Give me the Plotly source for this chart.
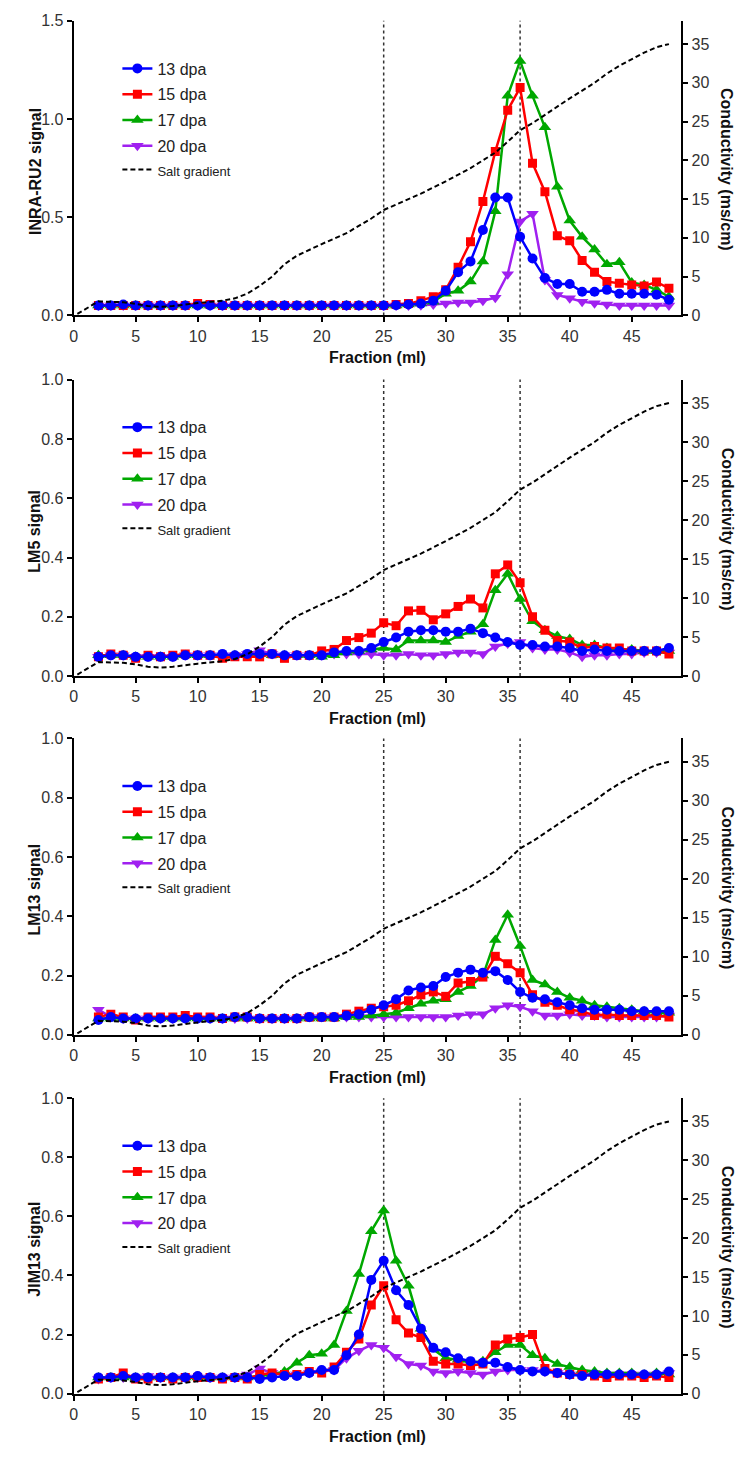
import plotly.graph_objects as go

# Fraction numbers (ml) collected from the column
fractions = list(range(2, 49))

# Salt gradient (conductivity, mS/cm) along the elution
salt_ml = [0.3, 2, 4, 5, 6, 7, 8, 10, 12, 13, 14, 15, 16, 17, 18, 19, 20, 22, 24, 25,
           26, 28, 30, 32, 33, 34, 35, 36, 37, 38, 40, 42, 43, 44, 46, 47, 48]
salt_ms = [0.2, 1.8, 1.7, 1.5, 1.2, 1.1, 1.2, 1.6, 1.9, 2.2, 2.8, 3.8, 5.0, 6.6, 7.7, 8.5,
           9.2, 10.6, 12.5, 13.6, 14.3, 15.7, 17.3, 19.0, 20.0, 21.0, 22.4, 23.9, 24.8,
           25.9, 28.0, 30.0, 31.2, 32.2, 33.9, 34.6, 35.0]

# Fractions marked with dotted reference lines
marker_fractions = [25, 36]

# INRA-RU2 signal
inra_13 = [0.05] * 2 + [0.055] + [0.05] * 21 + [
    0.052, 0.055, 0.06, 0.075, 0.125, 0.22, 0.275, 0.435, 0.6, 0.6, 0.4, 0.29, 0.19,
    0.16, 0.16, 0.12, 0.12, 0.13, 0.11, 0.11, 0.11, 0.105, 0.08]
inra_15 = [0.05] * 8 + [0.06, 0.055] + [0.05] * 14 + [
    0.055, 0.06, 0.075, 0.095, 0.13, 0.245, 0.375, 0.58, 0.835, 1.045, 1.16, 0.775, 0.63,
    0.405, 0.38, 0.28, 0.22, 0.172, 0.163, 0.155, 0.15, 0.17, 0.138]
inra_17 = [0.05] * 24 + [
    0.05, 0.055, 0.06, 0.07, 0.11, 0.125, 0.172, 0.275, 0.53, 1.118, 1.296, 1.118, 0.958,
    0.655, 0.483, 0.4, 0.336, 0.26, 0.27, 0.168, 0.155, 0.13, 0.095]
inra_20 = [0.05] * 24 + [
    0.05, 0.05, 0.052, 0.055, 0.06, 0.065, 0.065, 0.075, 0.09, 0.21, 0.478, 0.517, 0.18,
    0.104, 0.087, 0.07, 0.062, 0.055, 0.05, 0.05, 0.05, 0.05, 0.05]

# LM5 signal
lm5_13 = [0.065, 0.07, 0.07, 0.065, 0.065, 0.065, 0.065, 0.07, 0.07, 0.07, 0.075, 0.07,
          0.075, 0.075, 0.075, 0.07, 0.07, 0.07, 0.07,
          0.08, 0.085, 0.085, 0.095, 0.115, 0.13, 0.15, 0.155, 0.155, 0.15, 0.15, 0.16,
          0.145, 0.13, 0.115, 0.105, 0.105, 0.1, 0.1, 0.095, 0.085, 0.09, 0.085, 0.085,
          0.085, 0.085, 0.085, 0.095]
lm5_15 = [0.065, 0.075, 0.07, 0.06, 0.07, 0.065, 0.07, 0.075, 0.07, 0.07, 0.06, 0.065,
          0.065, 0.065, 0.075, 0.06, 0.07, 0.07, 0.085,
          0.09, 0.12, 0.13, 0.145, 0.18, 0.17, 0.22, 0.222, 0.19, 0.21, 0.235, 0.26, 0.23,
          0.345, 0.375, 0.315, 0.2, 0.155, 0.12, 0.115, 0.095, 0.1, 0.095, 0.095, 0.085,
          0.085, 0.085, 0.075]
lm5_17 = [0.07, 0.07, 0.07, 0.065, 0.065, 0.065, 0.065, 0.07, 0.07, 0.07, 0.07, 0.07,
          0.07, 0.075, 0.07, 0.07, 0.07, 0.07, 0.065,
          0.07, 0.08, 0.085, 0.09, 0.095, 0.09, 0.12, 0.12, 0.12, 0.115, 0.135, 0.15,
          0.175, 0.29, 0.345, 0.26, 0.185, 0.155, 0.135, 0.125, 0.105, 0.105, 0.095, 0.09,
          0.09, 0.085, 0.085, 0.085]
lm5_20 = [0.065, 0.07, 0.07, 0.065, 0.065, 0.065, 0.065, 0.07, 0.07, 0.07, 0.07, 0.07,
          0.075, 0.087, 0.075, 0.07, 0.07, 0.07, 0.07,
          0.075, 0.075, 0.075, 0.075, 0.07, 0.07, 0.075, 0.07, 0.07, 0.075, 0.08, 0.08,
          0.075, 0.1, 0.11, 0.115, 0.095, 0.09, 0.09, 0.08, 0.065, 0.07, 0.07, 0.075,
          0.075, 0.08, 0.08, 0.08]

# LM13 signal
lm13_13 = [0.05, 0.06, 0.055, 0.055, 0.055, 0.055, 0.055, 0.055, 0.055, 0.055, 0.055,
           0.06, 0.06, 0.055, 0.055, 0.055, 0.055, 0.06, 0.06,
           0.06, 0.065, 0.07, 0.085, 0.1, 0.12, 0.15, 0.16, 0.165, 0.195, 0.21, 0.22, 0.21,
           0.215, 0.185, 0.145, 0.125, 0.12, 0.11, 0.1, 0.09, 0.085, 0.085, 0.085, 0.08,
           0.08, 0.08, 0.08]
lm13_15 = [0.06, 0.07, 0.06, 0.05, 0.06, 0.06, 0.06, 0.065, 0.06, 0.06, 0.055, 0.06,
           0.06, 0.055, 0.055, 0.055, 0.055, 0.06, 0.06,
           0.06, 0.07, 0.08, 0.09, 0.095, 0.1, 0.115, 0.135, 0.145, 0.13, 0.175, 0.18,
           0.195, 0.265, 0.24, 0.21, 0.135, 0.11, 0.1, 0.085, 0.08, 0.065, 0.07, 0.065,
           0.065, 0.065, 0.065, 0.06]
lm13_17 = [0.055] * 19 + [
    0.055, 0.06, 0.06, 0.065, 0.07, 0.075, 0.09, 0.105, 0.115, 0.12, 0.145, 0.165, 0.2,
    0.32, 0.405, 0.3, 0.185, 0.17, 0.145, 0.125, 0.115, 0.1, 0.095, 0.09, 0.085, 0.08,
    0.075, 0.075]
lm13_20 = [0.085, 0.06] + [0.055] * 15 + [0.06, 0.06] + [
    0.06, 0.06, 0.06, 0.06, 0.06, 0.06, 0.06, 0.06, 0.06, 0.06, 0.065, 0.07, 0.07, 0.09,
    0.1, 0.095, 0.08, 0.065, 0.065, 0.07, 0.065, 0.065, 0.06, 0.06, 0.06, 0.06, 0.06,
    0.065]

# JIM13 signal
jim13_13 = [0.055, 0.055, 0.06, 0.055, 0.055, 0.055, 0.055, 0.055, 0.06, 0.055, 0.055,
            0.055, 0.055, 0.05, 0.055, 0.06, 0.06, 0.07, 0.08,
            0.08, 0.13, 0.2, 0.385, 0.45, 0.35, 0.3, 0.22, 0.155, 0.14, 0.12, 0.11, 0.105,
            0.105, 0.09, 0.08, 0.075, 0.075, 0.07, 0.065, 0.06, 0.065, 0.065, 0.065, 0.065,
            0.065, 0.065, 0.075]
jim13_15 = [0.05, 0.055, 0.07, 0.05, 0.05, 0.055, 0.05, 0.055, 0.055, 0.055, 0.05, 0.055,
            0.05, 0.065, 0.07, 0.065, 0.065, 0.075, 0.07,
            0.09, 0.14, 0.185, 0.3, 0.365, 0.25, 0.205, 0.19, 0.11, 0.1, 0.1, 0.095, 0.1,
            0.165, 0.185, 0.19, 0.2, 0.085, 0.07, 0.065, 0.065, 0.06, 0.055, 0.06, 0.06,
            0.055, 0.06, 0.055]
jim13_17 = [0.055] * 13 + [0.06, 0.065, 0.075, 0.105, 0.13, 0.135,
            0.165, 0.28, 0.405, 0.55, 0.62, 0.45, 0.365, 0.22, 0.15, 0.12, 0.115, 0.105,
            0.11, 0.14, 0.165, 0.165, 0.13, 0.12, 0.1, 0.09, 0.08, 0.075, 0.07, 0.07, 0.07,
            0.065, 0.07, 0.065]
jim13_20 = [0.05, 0.055, 0.055, 0.055, 0.06, 0.055, 0.055, 0.055, 0.055, 0.055, 0.055,
            0.055, 0.065, 0.085, 0.07, 0.065, 0.065, 0.07, 0.075,
            0.08, 0.12, 0.145, 0.165, 0.155, 0.125, 0.1, 0.095, 0.075, 0.07, 0.075, 0.07,
            0.065, 0.075, 0.08, 0.08, 0.08, 0.075, 0.07, 0.065, 0.065, 0.07, 0.065, 0.065,
            0.065, 0.065, 0.065, 0.07]

panel_titles = ["INRA-RU2 signal", "LM5 signal", "LM13 signal", "JIM13 signal"]
panel_data = [
    (inra_13, inra_15, inra_17, inra_20),
    (lm5_13, lm5_15, lm5_17, lm5_20),
    (lm13_13, lm13_15, lm13_17, lm13_20),
    (jim13_13, jim13_15, jim13_17, jim13_20),
]
panel_ymax = [1.5, 1.0, 1.0, 1.0]
panel_dtick = [0.5, 0.2, 0.2, 0.2]

series_names = ["13 dpa", "15 dpa", "17 dpa", "20 dpa"]
series_colors = ["#0000ff", "#ff0000", "#00a800", "#a020f0"]
series_symbols = ["circle", "square", "triangle-up", "triangle-down"]
series_sizes = [10, 9, 11, 11]

# ---- page geometry (pixels) ----
W, H = 744, 1459
X_LEFT, X_RIGHT = 70, 681
panel_px = [(13, 311), (376, 676), (739, 1039), (1103, 1402)]
FONT = "Liberation Sans, Arial, sans-serif"


def fy(p):
    return 1 - p / H


def fx(p):
    return p / W


fig = go.Figure()
layout = dict(
    width=W, height=H,
    margin=dict(l=0, r=0, t=0, b=0),
    paper_bgcolor="white", plot_bgcolor="white",
    font=dict(family=FONT, color="#333333", size=16),
    showlegend=True,
)
annotations = []
shapes = []

axis_common = dict(
    showgrid=False, zeroline=False, showline=True, linecolor="black", linewidth=2,
    ticks="outside", ticklen=5, tickwidth=2, tickcolor="black",
    tickfont=dict(family=FONT, size=16, color="#333333"),
)

for i in range(4):
    top, bottom = panel_px[i]
    xn = "" if i == 0 else str(i + 1)
    yl = "" if i == 0 else str(2 * i + 1)
    yr = str(2 * i + 2)
    leg = "legend" if i == 0 else f"legend{i + 1}"

    layout[f"xaxis{xn}"] = dict(
        axis_common, domain=[fx(X_LEFT), fx(X_RIGHT)], anchor=f"y{yl}",
        range=[0, 49], tickmode="linear", tick0=0, dtick=5,
    )
    layout[f"yaxis{yl}"] = dict(
        axis_common, domain=[fy(bottom), fy(top)], anchor=f"x{xn}",
        range=[0, panel_ymax[i]], tickmode="linear", tick0=0, dtick=panel_dtick[i],
        tickformat=".1f",
    )
    layout[f"yaxis{yr}"] = dict(
        axis_common, overlaying=f"y{yl}", side="right", anchor=f"x{xn}",
        range=[0, 38], tickmode="linear", tick0=0, dtick=5,
    )
    layout[leg] = dict(
        x=fx(114), y=fy(top + 31), xanchor="left", yanchor="top",
        bgcolor="rgba(0,0,0,0)", borderwidth=0, tracegroupgap=2, itemwidth=30,
        font=dict(family=FONT, size=16, color="#222222"),
    )

    # salt gradient on the conductivity axis (listed with the 20 dpa entry group)
    fig.add_trace(go.Scatter(
        x=salt_ml, y=salt_ms, mode="lines", xaxis=f"x{xn}", yaxis=f"y{yr}",
        line=dict(color="black", width=2, dash="5px,3px"),
        name='<span style="font-size:13px">Salt gradient</span>',
        legend=leg, legendgroup=f"s3_{i}", legendrank=5, hoverinfo="skip",
    ))

    # signal series, 20 dpa drawn first so 13 dpa sits on top
    for k in [3, 2, 1, 0]:
        fig.add_trace(go.Scatter(
            x=fractions, y=panel_data[i][k], mode="lines+markers",
            xaxis=f"x{xn}", yaxis=f"y{yl}",
            line=dict(color=series_colors[k], width=2.5),
            marker=dict(symbol=series_symbols[k], size=series_sizes[k],
                        color=series_colors[k], line=dict(width=0)),
            name=series_names[k], legend=leg, legendgroup=f"s{k}_{i}",
            legendrank=k + 1,
        ))

    # dotted reference lines
    for mf in marker_fractions:
        shapes.append(dict(
            type="line", xref=f"x{xn}", yref=f"y{yl} domain", x0=mf, x1=mf, y0=0, y1=1,
            line=dict(color="#333333", width=1.5, dash="dot"), layer="below",
        ))

    # axis titles
    annotations.append(dict(
        text="<b>Fraction (ml)</b>", xref="paper", yref="paper",
        x=fx((X_LEFT + X_RIGHT) / 2), y=fy(bottom + 43), xanchor="center",
        yanchor="middle", showarrow=False,
        font=dict(family=FONT, size=16, color="#111111"),
    ))
    annotations.append(dict(
        text=f"<b>{panel_titles[i]}</b>", xref="paper", yref="paper",
        x=fx(31), y=fy((top + bottom) / 2 + 3), xanchor="center", yanchor="middle",
        textangle=-90, showarrow=False,
        font=dict(family=FONT, size=16, color="#111111"),
    ))
    annotations.append(dict(
        text="<b>Conductivity (ms/cm)</b>", xref="paper", yref="paper",
        x=fx(727), y=fy((top + bottom) / 2 + 1), xanchor="center", yanchor="middle",
        textangle=90, showarrow=False,
        font=dict(family=FONT, size=16, color="#111111"),
    ))

layout["annotations"] = annotations
layout["shapes"] = shapes
fig.update_layout(**layout)

fig.write_html("out.html")
